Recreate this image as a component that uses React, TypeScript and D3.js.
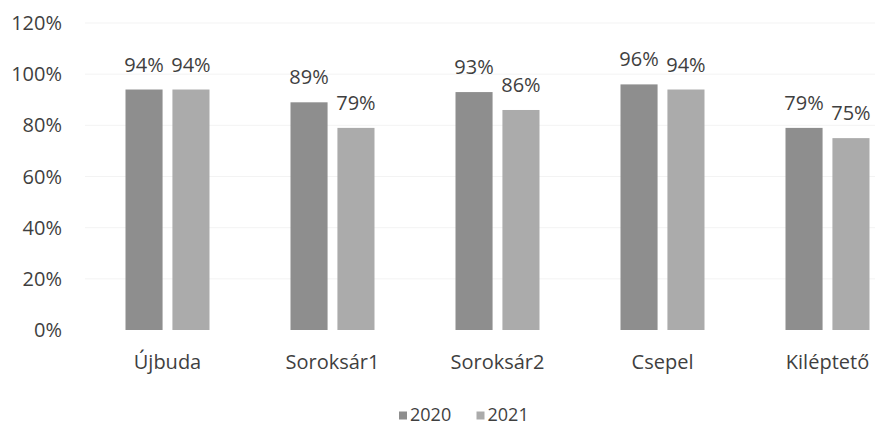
import React from "react";
import * as d3 from "d3";

const categories = ["Újbuda", "Soroksár1", "Soroksár2", "Csepel", "Kiléptető"];
const seriesNames = ["2020", "2021"];
const values2020 = [0.94, 0.89, 0.93, 0.96, 0.79];
const values2021 = [0.94, 0.79, 0.86, 0.94, 0.75];
const yTicks = [0, 0.2, 0.4, 0.6, 0.8, 1.0, 1.2];
const colors = ["#8e8e8e", "#ababab"];

const W = 875;
const H = 425;
const FONT = "'Open Sans', sans-serif";
const TEXT = "#3f3f3f";

export default function App() {
  const x = d3.scaleBand<string>().domain(categories).range([85, 910]).paddingInner(0).paddingOuter(0);
  const xs = d3.scaleBand<string>().domain(seriesNames).range([0, 84]).paddingInner(0.21);
  const y = d3.scaleLinear().domain([0, 1.2]).range([330, 23]);
  const series = [values2020, values2021];
  const groupOffset = (x.bandwidth() - 84) / 2;

  return (
    <svg
      width={W}
      height={H}
      style={{ position: "absolute", left: 0, top: 0, background: "#fff", overflow: "hidden" }}
      fontFamily={FONT}
    >
      {yTicks.map((t) => (
        <g key={t}>
          {t > 0 && (
            <line x1={85} x2={W} y1={y(t)} y2={y(t)} stroke="#f3f3f3" strokeWidth={1} />
          )}
          <text x={62} y={y(t)} dy="0.35em" textAnchor="end" fontSize={20} fill={TEXT}>
            {d3.format(".0%")(t)}
          </text>
        </g>
      ))}
      {categories.map((c, i) => (
        <g key={c} transform={`translate(${(x(c) as number) + groupOffset},0)`}>
          {series.map((vals, s) => {
            const bx = xs(seriesNames[s]) as number;
            const bw = xs.bandwidth();
            return (
              <g key={s}>
                <rect x={bx} y={y(vals[i])} width={bw} height={y(0) - y(vals[i])} fill={colors[s]} />
                <text
                  x={bx + bw / 2}
                  y={y(vals[i]) - 18}
                  textAnchor="middle"
                  fontSize={20}
                  fill={TEXT}
                >
                  {d3.format(".0%")(vals[i])}
                </text>
              </g>
            );
          })}
          <text x={42} y={369} textAnchor="middle" fontSize={20} fill={TEXT}>
            {c}
          </text>
        </g>
      ))}
      {seriesNames.map((s, i) => (
        <g key={s} transform={`translate(${399 + i * 77.5},0)`}>
          <rect x={0} y={411.5} width={8} height={8} fill={colors[i]} />
          <text x={11} y={420.5} fontSize={18} fill={TEXT}>
            {s}
          </text>
        </g>
      ))}
    </svg>
  );
}
